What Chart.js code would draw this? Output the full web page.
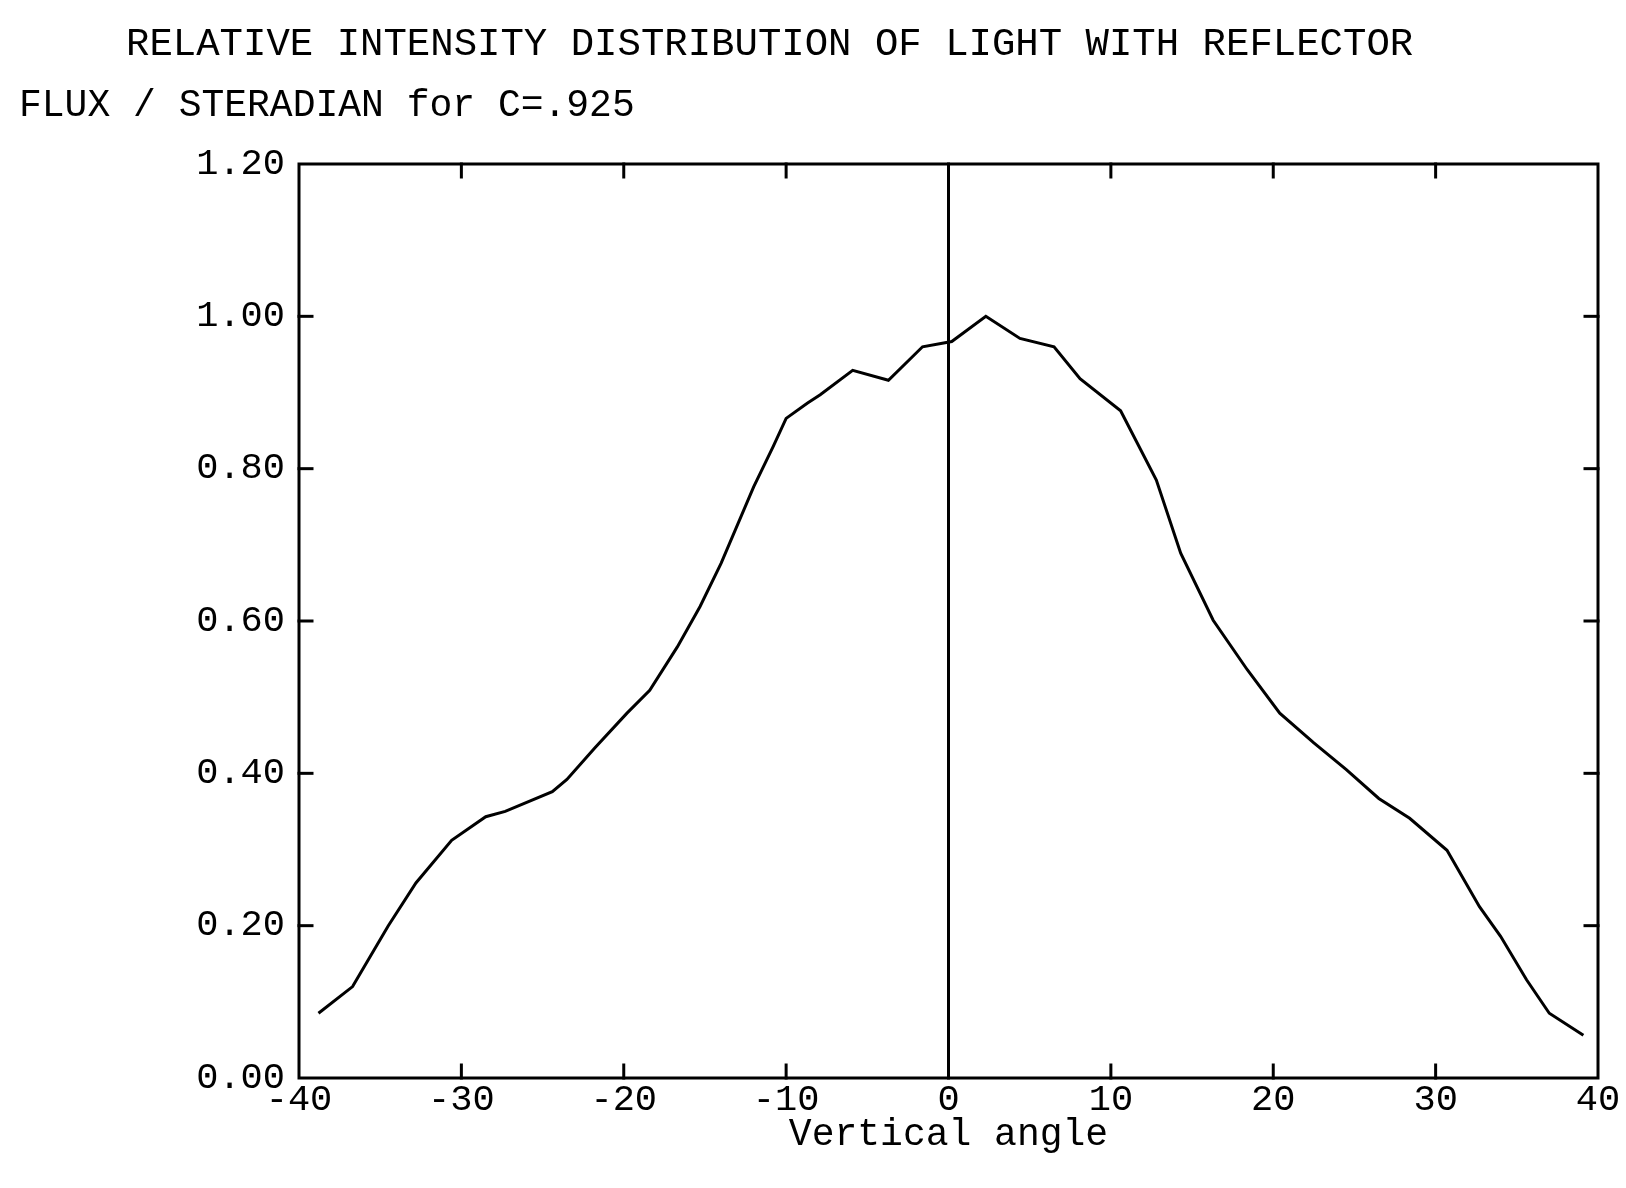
<!DOCTYPE html>
<html>
<head>
<meta charset="utf-8">
<title>Relative intensity distribution of light with reflector</title>
<script src="https://cdn.jsdelivr.net/npm/chart.js@4.4.0/dist/chart.umd.min.js"></script>
<style>
  html, body { margin: 0; padding: 0; background: #fff; }
  #c { display: block; }
</style>
</head>
<body>
<canvas id="c" width="1626" height="1188"></canvas>
<script>
// Vertical angle (degrees) of each measured point
const angles = [
  -38.8, -36.7, -34.5, -32.8, -30.6, -28.5, -27.3, -24.4, -23.5, -21.8,
  -19.8, -18.4, -16.7, -15.3, -14.0, -12.0, -10.8, -10.0, -8.7, -7.9,
  -5.9, -3.7, -1.6, 0.2, 2.3, 4.4, 6.5, 8.1, 10.6, 12.8,
  14.3, 16.3, 18.4, 20.4, 22.5, 24.5, 26.5, 28.4, 30.7, 32.7,
  34.0, 35.6, 37.0, 39.1
];
// Relative intensity (flux / steradian) at each angle
const intensity = [
  0.085, 0.120, 0.200, 0.256, 0.312, 0.343, 0.350, 0.376, 0.392, 0.433,
  0.479, 0.509, 0.566, 0.619, 0.676, 0.776, 0.829, 0.866, 0.886, 0.897,
  0.929, 0.916, 0.960, 0.967, 1.000, 0.971, 0.960, 0.918, 0.876, 0.785,
  0.689, 0.601, 0.536, 0.479, 0.440, 0.405, 0.367, 0.341, 0.299, 0.225,
  0.186, 0.129, 0.085, 0.056
];
const xTicks = [-40, -30, -20, -10, 0, 10, 20, 30, 40];
const yTicks = [0, 0.2, 0.4, 0.6, 0.8, 1.0, 1.2];

const titleText = 'RELATIVE INTENSITY DISTRIBUTION OF LIGHT WITH REFLECTOR';
const yHeader = 'FLUX / STERADIAN for C=.925';
const xTitle = 'Vertical angle';

const MONO = '"Liberation Mono", "DejaVu Sans Mono", monospace';

// Heading lines above the plot
const headings = {
  id: 'headings',
  afterDraw(chart) {
    const ctx = chart.ctx;
    ctx.save();
    ctx.fillStyle = '#000';
    ctx.textAlign = 'left';
    ctx.textBaseline = 'middle';
    ctx.font = '39px ' + MONO;
    ctx.fillText(titleText, 126, 45);
    ctx.font = '38px ' + MONO;
    ctx.fillText(yHeader, 19, 106);
    ctx.restore();
  }
};

// Box frame, inward tick marks and the zero-angle reference line
const frame = {
  id: 'frame',
  afterDatasetsDraw(chart) {
    const { ctx, chartArea: a, scales: { x, y } } = chart;
    const seg = (x1, y1, x2, y2) => { ctx.beginPath(); ctx.moveTo(x1, y1); ctx.lineTo(x2, y2); ctx.stroke(); };
    ctx.save();
    ctx.strokeStyle = '#000';
    ctx.lineWidth = 3;
    ctx.lineCap = 'square';
    ctx.strokeRect(a.left, a.top, a.right - a.left, a.bottom - a.top);
    const len = 13;
    xTicks.forEach(v => {
      if (v === x.min || v === x.max || v === 0) return;
      const px = x.getPixelForValue(v);
      seg(px, a.top, px, a.top + len);
      seg(px, a.bottom, px, a.bottom - len);
    });
    yTicks.forEach(v => {
      if (v === y.min || v === y.max) return;
      const py = y.getPixelForValue(v);
      seg(a.left, py, a.left + len, py);
      seg(a.right, py, a.right - len, py);
    });
    const z = x.getPixelForValue(0);
    seg(z, a.top, z, a.bottom);
    ctx.restore();
  }
};

new Chart(document.getElementById('c'), {
  type: 'line',
  data: {
    datasets: [{
      data: angles.map((a, i) => ({ x: a, y: intensity[i] })),
      borderColor: '#000',
      borderWidth: 3,
      pointRadius: 0,
      tension: 0,
      fill: false
    }]
  },
  options: {
    responsive: false,
    animation: false,
    devicePixelRatio: 1,
    layout: { padding: { left: 0, right: 28, top: 164, bottom: 0 } },
    plugins: { legend: { display: false }, tooltip: { enabled: false }, title: { display: false } },
    scales: {
      x: {
        type: 'linear',
        min: -40,
        max: 40,
        afterBuildTicks: s => { s.ticks = xTicks.map(v => ({ value: v })); },
        afterFit: s => { s.height = 110; },
        grid: { display: false, drawTicks: false },
        border: { display: false },
        ticks: {
          color: '#000',
          padding: 0,
          autoSkip: false,
          maxRotation: 0,
          font: { family: MONO, size: 37, lineHeight: 1.2 },
          callback: v => String(v)
        },
        title: {
          display: true,
          text: xTitle,
          color: '#000',
          font: { family: MONO, size: 38, lineHeight: 1.2 },
          padding: { top: 0, bottom: 30 }
        }
      },
      y: {
        min: 0,
        max: 1.2,
        afterBuildTicks: s => { s.ticks = yTicks.map(v => ({ value: v })); },
        afterFit: s => { s.width = 299; },
        grid: { display: false, drawTicks: false },
        border: { display: false },
        ticks: {
          color: '#000',
          padding: 14,
          font: { family: MONO, size: 37 },
          callback: v => Number(v).toFixed(2)
        }
      }
    }
  },
  plugins: [frame, headings]
});
</script>
</body>
</html>
